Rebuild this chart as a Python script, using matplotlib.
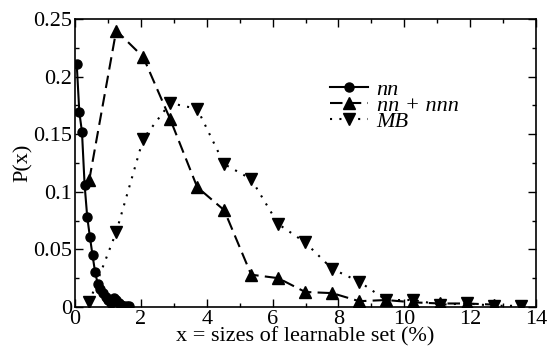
import matplotlib
matplotlib.use('Agg')
import matplotlib.pyplot as plt
from matplotlib.ticker import MultipleLocator

plt.rcParams['font.family'] = ['Liberation Serif', 'DejaVu Serif']

# nn (circles, solid)
nn_x = [0.05, 0.13, 0.21, 0.29, 0.37, 0.45, 0.53, 0.61, 0.69, 0.77, 0.85,
        0.93, 1.01, 1.09, 1.17, 1.25, 1.33, 1.41, 1.49, 1.57, 1.65]
nn_y = [0.211, 0.169, 0.152, 0.106, 0.078, 0.061, 0.045, 0.030, 0.020, 0.016, 0.012,
        0.009, 0.006, 0.003, 0.008, 0.006, 0.003, 0.002, 0.001, 0.001, 0.001]

# nn + nnn (up triangles, dashed)
nnn_x = [0.43, 1.25, 2.07, 2.89, 3.71, 4.53, 5.35, 6.17, 6.99, 7.81, 8.63,
         9.45, 10.27, 11.09, 11.91, 12.73]
nnn_y = [0.110, 0.240, 0.217, 0.163, 0.104, 0.084, 0.028, 0.025, 0.013, 0.012, 0.005,
         0.006, 0.004, 0.003, 0.003, 0.002]

# MB (down triangles, dotted)
mb_x = [0.43, 1.25, 2.07, 2.89, 3.71, 4.53, 5.35, 6.17, 6.99, 7.81, 8.63,
        9.45, 10.27, 11.09, 11.91, 12.73, 13.55]
mb_y = [0.004, 0.065, 0.146, 0.177, 0.172, 0.124, 0.111, 0.072, 0.056, 0.033, 0.022,
        0.006, 0.006, 0.002, 0.003, 0.001, 0.001]

x_ticks = [0, 2, 4, 6, 8, 10, 12, 14]
x_labels = ['0', '2', '4', '6', '8', '10', '12', '14']
y_ticks = [0, 0.05, 0.1, 0.15, 0.2, 0.25]
y_labels = ['0', '0.05', '0.1', '0.15', '0.2', '0.25']

fig = plt.figure(figsize=(5.56, 3.52), dpi=100)
ax = fig.add_axes([0.135, 0.128, 0.829, 0.818])

ax.plot(nn_x, nn_y, '-', color='black', lw=1.5, marker='o', markersize=6.5, label='nn')
ax.plot(nnn_x, nnn_y, color='black', lw=1.5, linestyle=(0, (6, 3)), marker='^',
        markersize=9, label='nn + nnn')
ax.plot(mb_x, mb_y, color='black', lw=1.5, linestyle=(0, (1, 3.5)), marker='v',
        markersize=9, label='MB')

ax.set_xticks(x_ticks)
ax.set_xticklabels(x_labels)
ax.set_yticks(y_ticks)
ax.set_yticklabels(y_labels)
ax.xaxis.set_minor_locator(MultipleLocator(1))
ax.yaxis.set_minor_locator(MultipleLocator(0.025))
ax.set_xlim(0, 14)
ax.set_ylim(0, 0.25)
ax.tick_params(which='both', direction='in', top=True, right=True, labelsize=16, width=1)
ax.tick_params(which='major', length=6, pad=2)
ax.tick_params(which='minor', length=3)
for s in ax.spines.values():
    s.set_linewidth(1.2)

ax.set_xlabel('x = sizes of learnable set (%)', fontsize=16, labelpad=-1)
ax.set_ylabel('P(x)', fontsize=16, labelpad=0)

ax.legend(loc='upper left', bbox_to_anchor=(0.553, 0.79), frameon=False,
          prop={'family': 'Liberation Serif', 'style': 'italic', 'size': 16},
          handlelength=1.7, handletextpad=0.4, labelspacing=-0.2, borderpad=0,
          borderaxespad=0)

fig.savefig('out.png', dpi=100)
